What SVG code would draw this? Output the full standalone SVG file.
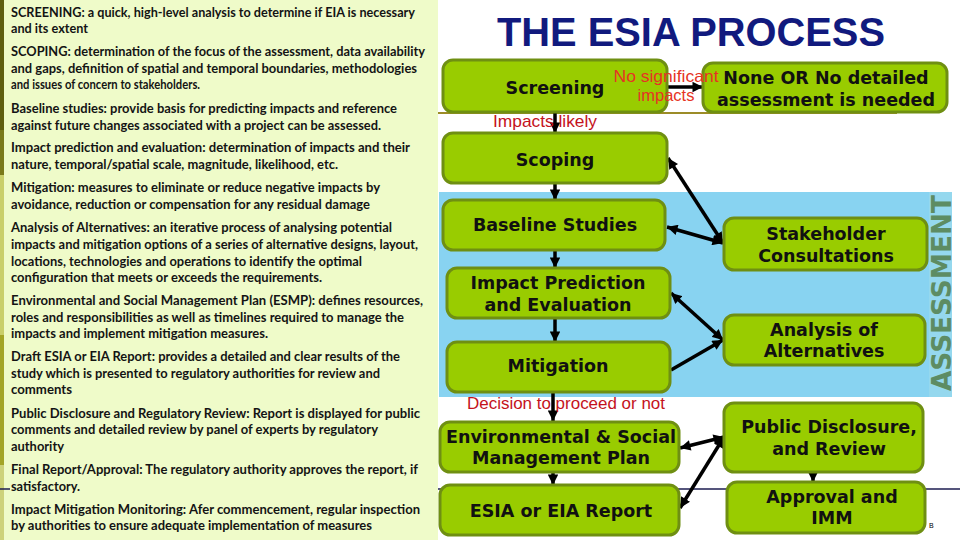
<svg xmlns="http://www.w3.org/2000/svg" width="960" height="540" viewBox="0 0 960 540">
<style>
.lt{font-family:Lato,"Liberation Sans",sans-serif;font-size:12.5px;font-weight:bold;fill:#141414}
.box{fill:#99cc00;stroke:#6f8f12;stroke-width:3}
.bt{font-family:"DejaVu Sans",Verdana,sans-serif;font-size:17.5px;font-weight:bold;fill:#111;text-anchor:middle}
.red1{font-family:"Liberation Sans",Arial,sans-serif;font-size:16.5px;fill:#e63324;text-anchor:middle}
.red2{font-family:"Liberation Sans",Arial,sans-serif;font-size:17px;fill:#c4121c}
.arr{stroke:#000;stroke-width:3.5;fill:none;marker-end:url(#ah)}
.arr2{stroke:#000;stroke-width:3.5;fill:none;marker-end:url(#ah);marker-start:url(#ah)}
</style>
<defs>
<marker id="ah" viewBox="0 0 10 10" refX="10" refY="5" markerWidth="3.2" markerHeight="3" orient="auto-start-reverse" markerUnits="strokeWidth">
<path d="M0,0 L10,5 L0,10 z" fill="#000"/>
</marker>
</defs>
<rect width="960" height="540" fill="#ffffff"/>
<!-- background lines -->
<line x1="438" y1="113" x2="897" y2="113" stroke="#9c8c28" stroke-width="2"/>
<line x1="438" y1="489" x2="960" y2="489" stroke="#1c1c50" stroke-width="1.5"/>
<!-- blue assessment panel -->
<rect x="439" y="192" width="513" height="205" fill="#88d3f1"/>
<rect x="929" y="192" width="23" height="205" fill="#95d8ee"/>
<text transform="translate(951,293) rotate(-90)" font-family="DejaVu Sans,Verdana,sans-serif" font-size="27" font-weight="bold" fill="#5d8c63" text-anchor="middle" textLength="196" lengthAdjust="spacingAndGlyphs">ASSESSMENT</text>
<!-- left panel -->
<rect x="0" y="0" width="438" height="540" fill="#effbc9"/>
<rect x="0" y="0" width="4" height="130" fill="#5f5f0f"/>
<rect x="0" y="130" width="4" height="45" fill="#7a7a1a"/>
<rect x="0" y="175" width="4" height="160" fill="#c9cf6a"/>
<rect x="0" y="335" width="4" height="130" fill="#a3a526"/>
<rect x="0" y="465" width="4" height="75" fill="#cdd27a"/>
<line x1="0" y1="489" x2="10" y2="489" stroke="#1c1c50" stroke-width="1.5"/>
<g id="legend">
<text class="lt" x="11" y="17" textLength="404" lengthAdjust="spacingAndGlyphs">SCREENING: a quick, high-level analysis to determine if EIA is necessary</text>
<text class="lt" x="11" y="33" textLength="77" lengthAdjust="spacingAndGlyphs">and its extent</text>
<text class="lt" x="11" y="56" textLength="414" lengthAdjust="spacingAndGlyphs">SCOPING: determination of the focus of the assessment, data availability</text>
<text class="lt" x="11" y="73" textLength="406" lengthAdjust="spacingAndGlyphs">and gaps, definition of spatial and temporal boundaries, methodologies</text>
<text class="lt" x="11" y="89" textLength="189" lengthAdjust="spacingAndGlyphs">and issues of concern to stakeholders.</text>
<text class="lt" x="11" y="113" textLength="386" lengthAdjust="spacingAndGlyphs">Baseline studies: provide basis for predicting impacts and reference</text>
<text class="lt" x="11" y="130" textLength="370" lengthAdjust="spacingAndGlyphs">against future changes associated with a project can be assessed.</text>
<text class="lt" x="11" y="152" textLength="399" lengthAdjust="spacingAndGlyphs">Impact prediction and evaluation: determination of impacts and their</text>
<text class="lt" x="11" y="169" textLength="327" lengthAdjust="spacingAndGlyphs">nature, temporal/spatial scale, magnitude, likelihood, etc.</text>
<text class="lt" x="11" y="192" textLength="369" lengthAdjust="spacingAndGlyphs">Mitigation: measures to eliminate or reduce negative impacts by</text>
<text class="lt" x="11" y="209" textLength="359" lengthAdjust="spacingAndGlyphs">avoidance, reduction or compensation for any residual damage</text>
<text class="lt" x="11" y="232" textLength="381" lengthAdjust="spacingAndGlyphs">Analysis of Alternatives: an iterative process of analysing potential</text>
<text class="lt" x="11" y="249" textLength="407" lengthAdjust="spacingAndGlyphs">impacts and mitigation options of a series of alternative designs, layout,</text>
<text class="lt" x="11" y="266" textLength="351" lengthAdjust="spacingAndGlyphs">locations, technologies and operations to identify the optimal</text>
<text class="lt" x="11" y="282" textLength="311" lengthAdjust="spacingAndGlyphs">configuration that meets or exceeds the requirements.</text>
<text class="lt" x="11" y="305" textLength="412" lengthAdjust="spacingAndGlyphs">Environmental and Social Management Plan (ESMP): defines resources,</text>
<text class="lt" x="11" y="322" textLength="393" lengthAdjust="spacingAndGlyphs">roles and responsibilities as well as timelines required to manage the</text>
<text class="lt" x="11" y="338" textLength="257" lengthAdjust="spacingAndGlyphs">impacts and implement mitigation measures.</text>
<text class="lt" x="11" y="361" textLength="389" lengthAdjust="spacingAndGlyphs">Draft ESIA or EIA Report: provides a detailed and clear results of the</text>
<text class="lt" x="11" y="378" textLength="369" lengthAdjust="spacingAndGlyphs">study which is presented to regulatory authorities for review and</text>
<text class="lt" x="11" y="394" textLength="61" lengthAdjust="spacingAndGlyphs">comments</text>
<text class="lt" x="11" y="418" textLength="409" lengthAdjust="spacingAndGlyphs">Public Disclosure and Regulatory Review: Report is displayed for public</text>
<text class="lt" x="11" y="434" textLength="367" lengthAdjust="spacingAndGlyphs">comments and detailed review by panel of experts by regulatory</text>
<text class="lt" x="11" y="451" textLength="53" lengthAdjust="spacingAndGlyphs">authority</text>
<text class="lt" x="11" y="474" textLength="407" lengthAdjust="spacingAndGlyphs">Final Report/Approval: The regulatory authority approves the report, if</text>
<text class="lt" x="11" y="491" textLength="69" lengthAdjust="spacingAndGlyphs">satisfactory.</text>
<text class="lt" x="11" y="514" textLength="409" lengthAdjust="spacingAndGlyphs">Impact Mitigation Monitoring: Afer commencement, regular inspection</text>
<text class="lt" x="11" y="530" textLength="361" lengthAdjust="spacingAndGlyphs">by authorities to ensure adequate implementation of measures</text>
</g>
<!-- title -->
<text x="497" y="46" font-family="Liberation Sans,Arial,sans-serif" font-size="40" font-weight="bold" fill="#111a7e" textLength="388" lengthAdjust="spacingAndGlyphs">THE ESIA PROCESS</text>
<!-- connectors -->
<g id="connectors">
<line class="arr" x1="667" y1="87" x2="703" y2="87"/>
<line class="arr" x1="555" y1="112" x2="555" y2="133"/>
<line class="arr" x1="555" y1="183" x2="555" y2="200"/>
<line class="arr" x1="555" y1="250" x2="555" y2="268"/>
<line class="arr" x1="555" y1="318" x2="555" y2="342"/>
<line class="arr" x1="553" y1="392" x2="553" y2="421"/>
<line class="arr" x1="553" y1="472" x2="553" y2="485"/>
<line class="arr" x1="813" y1="472" x2="813" y2="482"/>
<line class="arr2" x1="668" y1="158" x2="723" y2="243"/>
<line class="arr2" x1="667" y1="227" x2="723" y2="243"/>
<line class="arr2" x1="671" y1="293" x2="723" y2="340"/>
<line class="arr" x1="671" y1="370" x2="723" y2="340"/>
<line class="arr2" x1="680" y1="448" x2="724" y2="437"/>
<line class="arr2" x1="680" y1="508" x2="724" y2="437"/>
</g>
<!-- nodes -->
<g id="screening"><rect class="box" x="443" y="60" width="224" height="52" rx="10"/><text class="bt" x="555" y="94">Screening</text></g>
<g id="none"><rect class="box" x="703" y="63" width="244" height="49" rx="10"/><text class="bt" x="826" y="84" font-size="18">None OR No detailed</text><text class="bt" x="826" y="106" font-size="18">assessment is needed</text></g>
<g id="scoping"><rect class="box" x="443" y="133" width="224" height="50" rx="10"/><text class="bt" x="555" y="166">Scoping</text></g>
<g id="baseline"><rect class="box" x="443" y="200" width="222" height="50" rx="10"/><text class="bt" x="555" y="231">Baseline Studies</text></g>
<g id="impact"><rect class="box" x="447" y="268" width="223" height="50" rx="10"/><text class="bt" x="558" y="289">Impact Prediction</text><text class="bt" x="558" y="311">and Evaluation</text></g>
<g id="mitigation"><rect class="box" x="447" y="342" width="223" height="50" rx="10"/><text class="bt" x="558" y="372">Mitigation</text></g>
<g id="stakeholder"><rect class="box" x="724" y="218" width="203" height="52" rx="10"/><text class="bt" x="826" y="240">Stakeholder</text><text class="bt" x="826" y="262">Consultations</text></g>
<g id="alternatives"><rect class="box" x="724" y="315" width="201" height="50" rx="10"/><text class="bt" x="824" y="336">Analysis of</text><text class="bt" x="824" y="357">Alternatives</text></g>
<g id="esmp"><rect class="box" x="440" y="422" width="239" height="50" rx="10"/><text class="bt" x="561" y="443">Environmental &amp; Social</text><text class="bt" x="561" y="464">Management Plan</text></g>
<g id="report"><rect class="box" x="440" y="485" width="239" height="50" rx="10"/><text class="bt" x="561" y="517">ESIA or EIA Report</text></g>
<g id="disclosure"><rect class="box" x="724" y="403" width="199" height="69" rx="10"/><text class="bt" x="829" y="433">Public Disclosure,</text><text class="bt" x="829" y="455">and Review</text></g>
<g id="approval"><rect class="box" x="727" y="482" width="198" height="51" rx="10"/><text class="bt" x="832" y="503">Approval and</text><text class="bt" x="832" y="524">IMM</text></g>
<!-- red labels (on top) -->
<text class="red1" x="666" y="82" textLength="105" lengthAdjust="spacingAndGlyphs">No significant</text>
<text class="red1" x="666" y="101">impacts</text>
<text class="red2" x="493" y="127" textLength="104" lengthAdjust="spacingAndGlyphs">Impacts likely</text>
<text class="red2" x="467" y="409" textLength="198" lengthAdjust="spacingAndGlyphs">Decision to proceed or not</text>
<text x="929" y="528" font-family="Liberation Sans,Arial,sans-serif" font-size="7" fill="#000">B</text>
</svg>
